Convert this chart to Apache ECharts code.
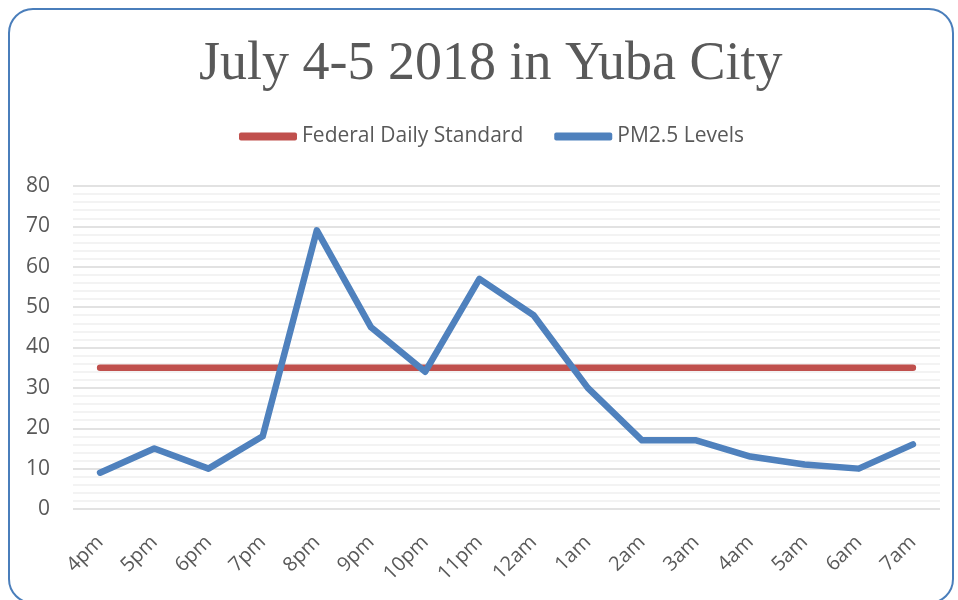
<!DOCTYPE html>
<html><head><meta charset="utf-8">
<script src="https://cdn.jsdelivr.net/npm/echarts@6/dist/echarts.min.js"></script>
<style>html,body{margin:0;padding:0;background:#fff}#c{width:958px;height:600px}</style>
</head><body><div id="c"></div>
<script>
var categories = ['4pm','5pm','6pm','7pm','8pm','9pm','10pm','11pm','12am','1am','2am','3am','4am','5am','6am','7am'];
var federalStandard = [35,35,35,35,35,35,35,35,35,35,35,35,35,35,35,35];
var pm25Levels = [9,15,10,18,69,45,34,57,48,30,17,17,13,11,10,16];
var yTicks = {min:0, max:80, interval:10};

var chart = echarts.init(document.getElementById('c'));
chart.setOption({
  backgroundColor:'#fff',
  animation:false,
  graphic:[{type:'rect', shape:{x:9,y:9,width:944,height:594,r:24}, style:{fill:'none',stroke:'#4a7ebb',lineWidth:2}, z:-1}],
  title:{text:'July 4-5 2018 in Yuba City', left:194, top:33,
    textStyle:{fontFamily:'Liberation Serif', fontSize:54, fontWeight:'normal', color:'#595959'}},
  legend:{top:121, left:234, itemGap:31, itemWidth:58, itemHeight:8, icon:'roundRect',
    textStyle:{fontFamily:'Open Sans', fontSize:21, color:'#595959'},
    data:['Federal Daily Standard','PM2.5 Levels']},
  grid:{left:73, right:18, top:186, bottom:91},
  xAxis:{type:'category', data:categories, boundaryGap:true,
    axisLine:{show:false}, axisTick:{show:false},
    axisLabel:{rotate:45, fontFamily:'Open Sans', fontSize:20, color:'#595959', margin:30}},
  yAxis:{type:'value', min:yTicks.min, max:yTicks.max, interval:yTicks.interval,
    axisLine:{show:false}, axisTick:{show:false},
    axisLabel:{fontFamily:'Open Sans', fontSize:21, color:'#595959', margin:23},
    splitLine:{lineStyle:{color:'#d9d9d9', width:1.5}},
    minorTick:{show:false, splitNumber:5},
    minorSplitLine:{show:true, lineStyle:{color:'#f0f0f0', width:1.5}}},
  series:[
    {name:'Federal Daily Standard', type:'line', data:federalStandard, showSymbol:false, symbol:'none',
      itemStyle:{color:'#c0504d'}, lineStyle:{width:6.5, color:'#c0504d', cap:'round'}},
    {name:'PM2.5 Levels', type:'line', data:pm25Levels, showSymbol:false, symbol:'none',
      itemStyle:{color:'#4f81bd'}, lineStyle:{width:6.5, color:'#4f81bd', cap:'round', join:'round'}}
  ]
});
</script></body></html>
